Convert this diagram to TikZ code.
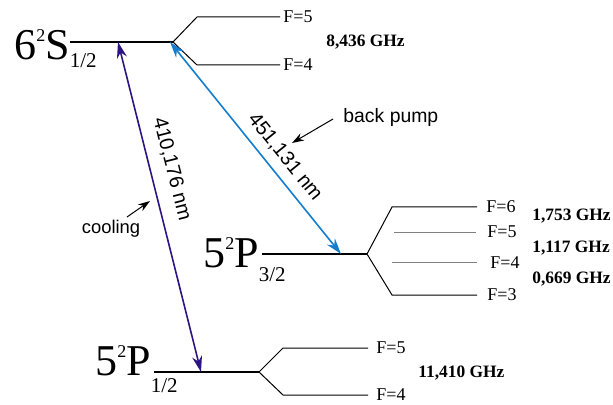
\documentclass[tikz,border=0pt]{standalone}
\usepackage{fontspec}
\setmainfont{Liberation Serif}
\setsansfont{Liberation Sans}
\usetikzlibrary{arrows.meta}
\definecolor{coolcol}{RGB}{45,20,130}
\definecolor{pumpcol}{RGB}{20,125,205}
% term symbol: digit, letter, J, lowering of J
\newcommand{\term}[4]{\fontsize{22}{22}\selectfont #1\raisebox{9pt}{\fontsize{9}{9}\selectfont 2}#2\raisebox{-#4}{\fontsize{10.5}{10.5}\selectfont #3}}
\begin{document}
\begin{tikzpicture}[x=0.5pt,y=-0.5pt,
    level/.style={line width=1.1pt},
    hfs/.style={line width=0.5pt},
    sub/.style={line width=0.5pt,gray},
    flab/.style={anchor=west,inner sep=0pt,font=\fontsize{9}{9}\selectfont},
    ghz/.style={anchor=west,inner sep=0pt,font=\fontsize{8.7}{9}\selectfont\bfseries},
    laser/.style={line width=0.8pt,{Stealth[length=8pt,width=5pt]}-{Stealth[length=8pt,width=5pt]}},
    note/.style={line width=0.5pt,-{Stealth[length=6pt,width=4pt]}}]
    \useasboundingbox (0,0) rectangle (613,405);
    % Define level positions
    \coordinate (Sl) at (70,42); \coordinate (Sr) at (173,42);
    \coordinate (Su) at (197,17); \coordinate (Sue) at (280,17);
    \coordinate (Sd) at (197,65); \coordinate (Sde) at (280,65);
    \coordinate (Pl) at (262,254); \coordinate (Pr) at (367,254);
    \coordinate (Pu) at (392,207); \coordinate (Pue) at (477,207);
    \coordinate (P5) at (394,232); \coordinate (P5e) at (476,232);
    \coordinate (P4) at (392,262); \coordinate (P4e) at (477,262);
    \coordinate (Pd) at (392,295); \coordinate (Pde) at (477,295);
    \coordinate (Ql) at (154,372); \coordinate (Qr) at (259,372);
    \coordinate (Qu) at (283,348); \coordinate (Que) at (368,348);
    \coordinate (Qd) at (283,395); \coordinate (Qde) at (368,395);
    % Term labels
    \node[anchor=base west,inner sep=0pt] (S) at (14,60) {\term{6}{S}{1/2}{4pt}};
    \node[anchor=base west,inner sep=0pt] (P) at (203,267) {\term{5}{P}{3/2}{7pt}};
    \node[anchor=base west,inner sep=0pt] (Q) at (95,375) {\term{5}{P}{1/2}{8.5pt}};
    % Draw levels
    \draw[level] (Sl) -- (Sr);
    \draw[hfs] (Sr) -- (Su) -- (Sue); \draw[hfs] (Sr) -- (Sd) -- (Sde);
    \draw[level] (Pl) -- (Pr);
    \draw[hfs] (Pr) -- (Pu) -- (Pue); \draw[hfs] (Pr) -- (Pd) -- (Pde);
    \draw[sub] (P5) -- (P5e); \draw[sub] (P4) -- (P4e);
    \draw[level] (Ql) -- (Qr);
    \draw[hfs] (Qr) -- (Qu) -- (Que); \draw[hfs] (Qr) -- (Qd) -- (Qde);
    % Hyperfine labels
    \node[flab] (S5) at (283,17) {F=5}; \node[flab] (S4) at (283,65) {F=4};
    \node[ghz] (Sg) at (326,42) {8,436 GHz};
    \node[flab] (P6l) at (486,207) {F=6}; \node[flab] (P5l) at (487,232) {F=5};
    \node[flab] (P4l) at (490,263) {F=4}; \node[flab] (P3l) at (487,295) {F=3};
    \node[ghz] (Pg1) at (532,216) {1,753 GHz};
    \node[ghz] (Pg2) at (532,248) {1,117 GHz};
    \node[ghz] (Pg3) at (532,279) {0,669 GHz};
    \node[flab] (Q5) at (376,348) {F=5}; \node[flab] (Q4) at (376,395) {F=4};
    \node[ghz] (Qg) at (418,373) {11,410 GHz};
    % Draw arrows
    \coordinate (Sc) at (118,42); \coordinate (Qc) at (201,372);
    \coordinate (Sb) at (170,42); \coordinate (Pb) at (341,254);
    \draw[laser,coolcol] (Sc) -- (Qc);
    \draw[laser,pumpcol] (Sb) -- (Pb);
    \node[rotate=-75.7,font=\sffamily\fontsize{10}{10}\selectfont] (cl) at (172,169) {410,176 nm};
    \node[rotate=-51,font=\sffamily\fontsize{10}{10}\selectfont] (bl) at (285,157) {451,131 nm};
    % Pointers
    \node[anchor=west,inner sep=0pt,font=\sffamily\fontsize{9.7}{10}\selectfont] (bp) at (343,117) {back pump};
    \node[inner sep=0pt,font=\sffamily\fontsize{9.2}{10}\selectfont] (cool) at (111,229) {cooling};
    \coordinate (bpfrom) at (333,119); \coordinate (bptip) at (292,143);
    \coordinate (coolfrom) at (127,217); \coordinate (cooltip) at (150,201);
    \draw[note] (bpfrom) -- (bptip);
    \draw[note] (coolfrom) -- (cooltip);
\end{tikzpicture}
\end{document}
